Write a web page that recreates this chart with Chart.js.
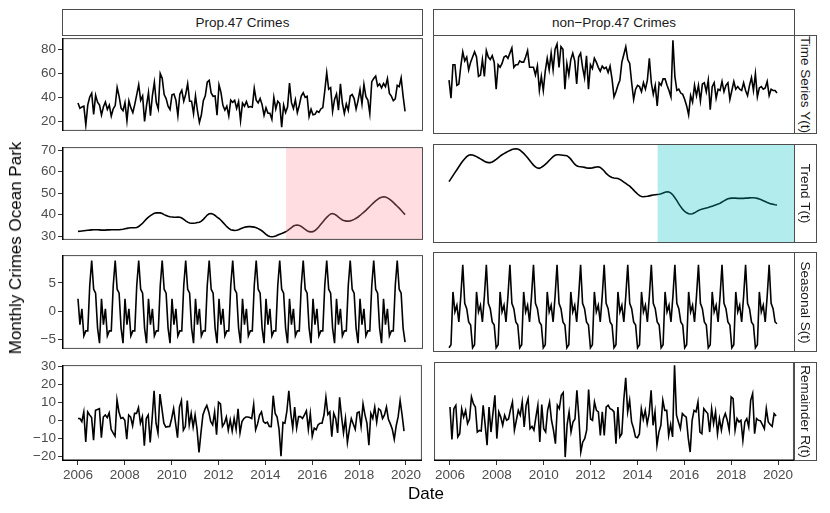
<!DOCTYPE html>
<html>
<head>
<meta charset="utf-8">
<script src="https://cdn.jsdelivr.net/npm/chart.js@4.4.0/dist/chart.umd.min.js"></script>
<style>
  body { margin: 0; width: 830px; height: 513px; background: #fff; position: relative; overflow: hidden;
         font-family: "Liberation Sans", Arial, Helvetica, sans-serif; }
  canvas { position: absolute; }
  .strip { position: absolute; box-sizing: border-box; border: 1px solid #4d4d4d; background: #fff;
           color: #1a1a1a; font-size: 13.5px; display: flex; align-items: center; justify-content: center; }
  .strip span { white-space: nowrap; }
  .vstrip span { transform: rotate(90deg); }
  .title { position: absolute; font-size: 17px; color: #000; white-space: nowrap; transform: translate(-50%, -50%); }
</style>
</head>
<body>
<script>
// monthly series, Jan 2006 .. Dec 2019
const startYear = 2006;
const policyDate = 2014.85; // Prop.47, Nov 2014

const columnLabels = ['Prop.47 Crimes', 'non\u2212Prop.47 Crimes'];
const rowLabels = ['Time Series Y(t)', 'Trend T(t)', 'Seasonal S(t)', 'Remainder R(t)'];
const yearTicks = [2006, 2008, 2010, 2012, 2014, 2016, 2018, 2020];
const rowTicks = [
    [20, 40, 60, 80],
    [30, 40, 50, 60, 70],
    [-5, 0, 5],
    [-20, -10, 0, 10, 20, 30]
];

const propSeries = [
    35.4,30.9,32.1,32.7,17.1,33.8,40.3,43.4,25.9,41.7,36.0,33.6,
    25.4,32.2,36.1,30.0,33.5,24.5,30.5,33.2,48.2,40.8,31.1,29.0,
    35.6,20.7,37.1,31.3,27.4,34.2,42.3,50.5,37.5,41.2,20.0,33.3,
    43.9,24.8,41.5,52.5,35.7,30.4,59.8,55.9,42.3,39.0,32.7,29.9,
    42.1,42.8,37.6,24.9,42.6,45.8,36.8,42.6,51.3,36.8,36.8,26.5,
    41.2,28.9,19.2,25.6,37.2,41.3,52.5,54.0,43.7,40.9,41.2,25.2,
    50.4,44.1,33.4,29.4,32.7,24.6,37.7,35.8,37.5,30.9,36.4,20.7,
    35.3,32.7,36.5,31.8,32.4,31.8,47.5,37.7,35.4,39.1,34.0,25.2,
    31.4,26.8,26.8,21.8,39.9,30.4,36.8,34.9,15.3,33.6,27.4,31.9,
    51.8,35.6,30.8,38.0,27.4,33.5,41.0,43.8,40.0,40.9,24.1,30.1,
    25.5,25.9,28.6,27.5,30.4,31.5,45.1,60.4,46.7,48.1,28.4,38.3,
    42.8,29.4,51.2,35.1,26.7,34.5,29.2,41.1,42.3,39.0,30.3,37.3,
    46.4,34.6,50.7,40.6,37.8,26.5,53.0,55.6,57.6,49.3,51.1,47.9,
    51.5,48.8,55.5,43.3,41.0,37.2,38.8,49.9,48.9,56.1,41.0,28.3
];
const propTrend = [
    32.2,32.3,32.4,32.5,32.6,32.7,32.8,32.9,33.0,33.0,33.0,32.9,
    32.8,32.8,32.8,32.9,32.9,33.0,33.0,33.0,33.0,33.0,33.1,33.2,
    33.4,33.6,33.8,33.9,33.9,33.9,34.0,34.5,35.2,36.0,37.0,38.0,
    38.8,39.5,40.1,40.6,40.8,40.9,40.8,40.5,40.0,39.6,39.2,39.0,
    38.9,38.8,38.8,38.9,38.8,38.4,37.8,37.1,36.5,36.1,36.0,36.0,
    36.1,36.3,36.5,37.0,37.8,38.8,39.8,40.4,40.5,40.2,39.6,38.8,
    38.2,37.4,36.4,35.4,34.4,33.6,33.0,32.8,32.6,32.7,33.0,33.4,
    33.8,34.1,34.3,34.4,34.4,34.3,34.2,33.9,33.5,33.0,32.4,31.6,
    30.8,30.2,29.8,29.7,29.8,30.1,30.5,30.9,31.2,31.6,32.0,32.6,
    33.3,34.0,34.7,35.1,35.2,35.0,34.5,33.8,33.1,32.5,32.1,32.0,
    32.1,32.6,33.4,34.4,35.5,36.6,37.7,38.7,39.6,40.3,40.5,40.2,
    39.6,38.8,38.1,37.5,37.2,37.0,37.0,37.1,37.4,37.8,38.3,38.9,
    39.6,40.4,41.2,42.0,42.9,43.8,44.7,45.6,46.4,47.1,47.7,48.1,
    48.3,48.2,47.8,47.2,46.5,45.7,44.8,43.9,43.0,42.0,41.0,40.0
];
const propSeasonal = [
    2.2,-2.4,0.4,-4.4,-3.5,-3.5,4.5,9.0,3.9,3.2,-3.0,-5.7,
    2.2,-2.4,0.4,-4.4,-3.5,-3.5,4.5,9.0,3.9,3.2,-3.0,-5.7,
    2.2,-2.4,0.4,-4.4,-3.5,-3.5,4.5,9.0,3.9,3.2,-3.0,-5.7,
    2.2,-2.4,0.4,-4.4,-3.5,-3.5,4.5,9.0,3.9,3.2,-3.0,-5.7,
    2.2,-2.4,0.4,-4.4,-3.5,-3.5,4.5,9.0,3.9,3.2,-3.0,-5.7,
    2.2,-2.4,0.4,-4.4,-3.5,-3.5,4.5,9.0,3.9,3.2,-3.0,-5.7,
    2.2,-2.4,0.4,-4.4,-3.5,-3.5,4.5,9.0,3.9,3.2,-3.0,-5.7,
    2.2,-2.4,0.4,-4.4,-3.5,-3.5,4.5,9.0,3.9,3.2,-3.0,-5.7,
    2.2,-2.4,0.4,-4.4,-3.5,-3.5,4.5,9.0,3.9,3.2,-3.0,-5.7,
    2.2,-2.4,0.4,-4.4,-3.5,-3.5,4.5,9.0,3.9,3.2,-3.0,-5.7,
    2.2,-2.4,0.4,-4.4,-3.5,-3.5,4.5,9.0,3.9,3.2,-3.0,-5.7,
    2.2,-2.4,0.4,-4.4,-3.5,-3.5,4.5,9.0,3.9,3.2,-3.0,-5.7,
    2.2,-2.4,0.4,-4.4,-3.5,-3.5,4.5,9.0,3.9,3.2,-3.0,-5.7,
    2.2,-2.4,0.4,-4.4,-3.5,-3.5,4.5,9.0,3.9,3.2,-3.0,-5.5
];
const propRemainder = [
    1,1,-0.7,4.6,-12,4.6,3,1.5,-11,5.5,6,6.4,
    -9.6,1.8,2.9,1.5,4.1,-5,-7,-8.8,11.3,4.6,1,1.5,
    0,-10.5,2.9,1.8,-3,3.8,3.8,7,-1.6,2,-14,1,
    2.9,-12.3,1,16.3,-1.6,-7,14.5,6.4,-1.6,-3.8,-3.5,-3.4,
    1,6.4,-1.6,-9.6,7.3,10.9,-5.5,-3.5,10.9,-2.5,3.8,-3.8,
    2.9,-5,-17.7,-7,2.9,6,8.2,4.6,-0.7,-2.5,4.6,-7.9,
    10,9.1,-3.4,-1.6,1.8,-5.5,0.2,-6,1,-5,6.4,-7,
    -0.7,1,1.8,1.8,1.5,1,8.8,-5.2,-2,2.9,4.6,-0.7,
    -1.6,-1,-3.4,-3.5,13.6,3.8,1.8,-5,-19.8,-1.2,-1.6,5,
    16.3,4,-4.3,7.3,-4.3,2,2,1,3,5.2,-5,3.8,
    -8.8,-4.3,-5.2,-2.5,-1.6,-1.6,2.9,12.7,3.2,4.6,-9.1,3.8,
    1,-7,12.7,2,-7,1,-12.3,-5,1,-2,-5,4.1,
    4.6,-3.4,9.1,3,-1.6,-13.8,3.8,1,7.3,-1,6.4,5.5,
    1,3,7.3,0.5,-2,-5,-10.5,-3,2,10.9,3,-6
];

const nonSeries = [
    54,40,66,66,50,51,65,76,69,72,62,68,
    72,76,72,57,58,70,57,77,72,70,73,68,
    47,66,64,67,72,73,71,75,79,64,66,66,
    69,68,68,72,77,64,64,64,58,65,46,57,
    46,61,71,62,75,62,78,82,64,80,78,47,
    67,58,70,75,69,51,72,75,64,56,73,47,
    66,63,71,68,64,61,65,63,64,60,65,55,
    41,45,50,54,68,74,80,70,67,52,39,47,
    50,49,45,52,47,54,71,52,43,50,34,52,
    50,55,55,50,46,41,85,57,46,47,44,43,
    39,34,27,42,37,50,42,50,38,51,52,45,
    54,31,49,52,40,47,46,53,45,50,52,39,
    46,53,47,49,47,46,52,46,42,50,56,46,
    59,41,48,49,47,48,53,42,47,46,46,44
];
const nonTrend = [
    55.0,56.3,57.6,58.9,60.2,61.5,62.8,64.0,65.0,65.9,66.5,66.7,
    66.6,66.3,65.9,65.4,64.9,64.4,63.9,63.5,63.3,63.3,63.6,64.1,
    64.7,65.4,66.1,66.7,67.2,67.7,68.2,68.6,69.0,69.2,69.3,69.2,
    68.8,68.1,67.3,66.4,65.4,64.3,63.2,62.2,61.4,60.9,60.8,61.2,
    61.8,62.5,63.3,64.2,65.1,65.9,66.5,66.7,66.7,66.6,66.5,66.4,
    66.3,65.7,64.8,63.7,62.6,61.9,61.6,61.5,61.4,61.2,61.0,60.9,
    60.9,61.0,61.2,61.4,61.5,61.2,60.5,59.6,58.6,57.8,57.2,56.8,
    56.6,56.5,56.4,56.0,55.4,54.8,54.2,53.6,53.0,52.2,51.3,50.4,
    49.6,48.9,48.5,48.4,48.5,48.6,48.8,49.0,49.2,49.3,49.4,49.5,
    49.7,50.0,50.4,50.6,50.5,50.0,49.2,48.0,46.7,45.3,44.0,42.9,
    42.0,41.4,41.0,40.9,41.0,41.4,41.9,42.4,42.8,43.1,43.3,43.5,
    43.7,44.0,44.3,44.6,44.9,45.2,45.6,46.1,46.6,47.1,47.5,47.7,
    47.8,47.8,47.8,47.7,47.7,47.7,47.7,47.8,47.8,47.9,48.0,48.0,
    47.9,47.7,47.4,47.1,46.7,46.3,45.9,45.6,45.3,45.1,44.9,44.8
];
const nonSeasonal = [
    -6.0,-5.5,3.3,0.0,1.1,-1.7,2.6,7.8,1.4,0.5,-1.7,-2.2,
    -6.0,-5.5,3.3,0.0,1.1,-1.7,2.6,7.8,1.4,0.5,-1.7,-2.2,
    -6.0,-5.5,3.3,0.0,1.1,-1.7,2.6,7.8,1.4,0.5,-1.7,-2.2,
    -6.0,-5.5,3.3,0.0,1.1,-1.7,2.6,7.8,1.4,0.5,-1.7,-2.2,
    -6.0,-5.5,3.3,0.0,1.1,-1.7,2.6,7.8,1.4,0.5,-1.7,-2.2,
    -6.0,-5.5,3.3,0.0,1.1,-1.7,2.6,7.8,1.4,0.5,-1.7,-2.2,
    -6.0,-5.5,3.3,0.0,1.1,-1.7,2.6,7.8,1.4,0.5,-1.7,-2.2,
    -6.0,-5.5,3.3,0.0,1.1,-1.7,2.6,7.8,1.4,0.5,-1.7,-2.2,
    -6.0,-5.5,3.3,0.0,1.1,-1.7,2.6,7.8,1.4,0.5,-1.7,-2.2,
    -6.0,-5.5,3.3,0.0,1.1,-1.7,2.6,7.8,1.4,0.5,-1.7,-2.2,
    -6.0,-5.5,3.3,0.0,1.1,-1.7,2.6,7.8,1.4,0.5,-1.7,-2.2,
    -6.0,-5.5,3.3,0.0,1.1,-1.7,2.6,7.8,1.4,0.5,-1.7,-2.2,
    -6.0,-5.5,3.3,0.0,1.1,-1.7,2.6,7.8,1.4,0.5,-1.7,-2.2,
    -6.0,-5.5,3.3,0.0,1.1,-1.7,2.6,7.8,1.4,0.5,-1.7,-2.0
];
const nonRemainder = [
    6.4,-10.9,5.5,7.3,-9.6,-7.9,5.5,1,4.6,-2.5,0,11.8,
    8.2,6.4,-7,-6.1,-6.4,7.3,-3,-14,6.4,-7,3,12.7,
    -10.5,3.8,1,-3.4,2,-0.7,0,5,9.1,-6,-0.7,4.6,
    2,9.1,-4.3,7.3,10.9,-5.2,-4,-6,1,7.3,-12.3,7.7,
    -5.2,-7,4.6,9.1,-0.7,-6,-13.2,7.3,5.5,12.7,14.1,-20.4,
    -3,3.8,-7,-1.6,0,15.4,1,-17.7,-12.3,-10.5,-6,15.7,
    0,-0.7,9.1,4.6,3.8,-8.8,3.8,-8.8,6.4,7.3,5.5,5,
    3.8,-13.2,6.4,-9.6,-7.9,10,22,3.8,10,-1.6,-5,-9.6,
    -10,-8,5.5,-0.2,4.6,-2.5,2.9,15.4,-3.4,3.8,-14,-7,
    -3.4,10,4.6,4.6,-8.8,-3,-9.6,28.7,2,-1.6,-5.2,2.9,
    1.8,1,-10,-17.7,-0.7,4.6,3.8,9.1,-7,-7.9,5.5,4.1,
    2.9,-7,5.5,-2.5,3.8,-7.9,0.2,-6,0.2,2.9,-0.7,-6,
    11.8,10.9,-6,0.2,-1.6,-0.7,-11.4,-1.6,0.2,-4.3,10,13.6,
    -7.9,0.2,-0.7,-1,-3,-5.2,5.5,-1.6,-3,-4,2.9,1.6
];

const panelData = [
    [propSeries, nonSeries],
    [propTrend, nonTrend],
    [propSeasonal, nonSeasonal],
    [propRemainder, nonRemainder]
];

// layout (page pixels)
const colX = [[62, 423], [433, 795]];
const rowY = [[35, 134], [144, 243], [252, 352], [362, 461]];
const rowRange = [[12.2, 89.1], [28.25, 71.4], [-6.7, 9.95], [-22.5, 30.5]];
const xRange = [2005.32, 2020.68];
const shades = ['rgba(255,142,152,0.3)', 'rgba(0,191,196,0.3)'];
const family = '"Liberation Sans", Arial, Helvetica, sans-serif';

// panel border, axis lines and the post-Prop.47 shading
const frame = {
    id: 'frame',
    afterDatasetsDraw(chart, args, opts) {
        const { ctx, chartArea: a, scales } = chart;
        ctx.save();
        if (opts.shade) {
            const xs = scales.x.getPixelForValue(policyDate);
            ctx.fillStyle = opts.shade;
            ctx.fillRect(xs, a.top, a.right - xs, a.bottom - a.top);
        }
        ctx.strokeStyle = '#4d4d4d';
        ctx.lineWidth = 1;
        ctx.strokeRect(a.left + 0.5, a.top + 0.5, a.width - 1, a.height - 1);
        ctx.strokeStyle = '#000';
        ctx.lineWidth = 1.5;
        ctx.beginPath();
        if (opts.yAxis) { ctx.moveTo(a.left + 0.75, a.top); ctx.lineTo(a.left + 0.75, a.bottom); }
        if (opts.xAxis) { ctx.moveTo(a.left, a.bottom - 0.75); ctx.lineTo(a.right, a.bottom - 0.75); }
        ctx.stroke();
        ctx.restore();
    }
};

const minus = v => String(v).replace('-', '\u2212');

function makePanel(r, c) {
    const [x0, x1] = colX[c], [y0, y1] = rowY[r];
    const bottom = r === 3, left = c === 0;
    const axisW = left ? 42 : 0, axisH = bottom ? 28 : 0, pad = 7;
    const w = (x1 - x0) + axisW;
    const h = (y1 - y0) + pad + (bottom ? axisH : pad);
    const cv = document.createElement('canvas');
    cv.width = w; cv.height = h;
    cv.style.width = w + 'px'; cv.style.height = h + 'px';
    cv.style.left = (x0 - axisW) + 'px'; cv.style.top = (y0 - pad) + 'px';
    document.body.appendChild(cv);

    const values = panelData[r][c];
    new Chart(cv, {
        type: 'line',
        data: {
            datasets: [{
                data: values.map((v, i) => ({ x: startYear + i / 12, y: v })),
                borderColor: '#000',
                borderWidth: 1.6,
                pointRadius: 0,
                tension: 0,
                fill: false
            }]
        },
        options: {
            responsive: false,
            animation: false,
            events: [],
            layout: { padding: { top: pad, bottom: bottom ? 0 : pad, left: 0, right: 0 } },
            plugins: {
                legend: { display: false },
                tooltip: { enabled: false },
                frame: { shade: r === 1 ? shades[c] : null, yAxis: left, xAxis: bottom }
            },
            scales: {
                x: {
                    type: 'linear',
                    min: xRange[0], max: xRange[1],
                    display: bottom,
                    afterBuildTicks: s => { s.ticks = yearTicks.map(v => ({ value: v })); },
                    afterFit: s => { s.height = axisH; },
                    grid: { drawOnChartArea: false, drawTicks: true, tickLength: 4, color: '#333' },
                    border: { display: false },
                    ticks: { color: '#4d4d4d', font: { size: 13.5, family }, padding: 2,
                             maxRotation: 0, autoSkip: false, callback: v => String(v) }
                },
                y: {
                    type: 'linear',
                    min: rowRange[r][0], max: rowRange[r][1],
                    display: left,
                    afterBuildTicks: s => { s.ticks = rowTicks[r].map(v => ({ value: v })); },
                    afterFit: s => { s.width = axisW; },
                    grid: { drawOnChartArea: false, drawTicks: true, tickLength: 4, color: '#333' },
                    border: { display: false },
                    ticks: { color: '#4d4d4d', font: { size: 13.5, family }, padding: 2,
                             autoSkip: false, callback: minus }
                }
            }
        },
        plugins: [frame]
    });
}

function addDiv(cls, text, css) {
    const d = document.createElement('div');
    d.className = cls;
    d.innerHTML = '<span></span>';
    d.firstChild.textContent = text;
    Object.assign(d.style, css);
    document.body.appendChild(d);
}

for (let r = 0; r < 4; r++) {
    for (let c = 0; c < 2; c++) makePanel(r, c);
}

// facet strips
columnLabels.forEach((t, c) => addDiv('strip', t, {
    left: colX[c][0] + 'px', top: '9px', width: (colX[c][1] - colX[c][0]) + 'px', height: '27px'
}));
rowLabels.forEach((t, r) => addDiv('strip vstrip', t, {
    left: '794px', top: rowY[r][0] + 'px', width: '23px', height: (rowY[r][1] - rowY[r][0]) + 'px'
}));

// axis titles
const yt = document.createElement('div');
yt.className = 'title';
yt.textContent = 'Monthly Crimes Ocean Park';
Object.assign(yt.style, { left: '16px', top: '248px', transform: 'translate(-50%, -50%) rotate(-90deg)' });
document.body.appendChild(yt);

const xt = document.createElement('div');
xt.className = 'title';
xt.textContent = 'Date';
Object.assign(xt.style, { left: '426px', top: '494px' });
document.body.appendChild(xt);
</script>
</body>
</html>
